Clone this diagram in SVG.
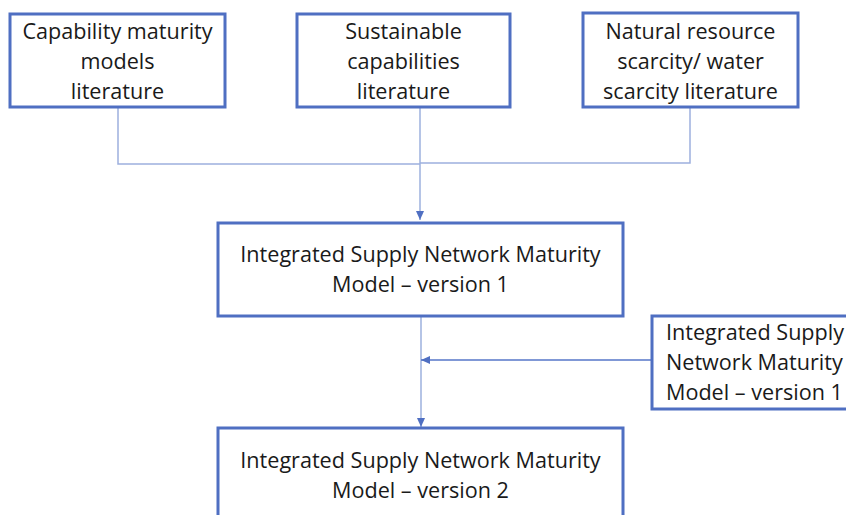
<svg xmlns="http://www.w3.org/2000/svg" width="846" height="515" viewBox="0 0 846 515">
<defs>
<style>
.box{fill:#fff;stroke:#4f6fc2;stroke-width:3}
.t{font-family:"Open Sans","Liberation Sans",sans-serif;font-size:21.6px;fill:#1a1a1a;text-anchor:middle}
.c1{fill:none;stroke:#9db0de;stroke-width:1.5}
.c2{fill:none;stroke:#5676c8;stroke-width:1.5}
</style>
<marker id="ah" markerWidth="10" markerHeight="10" refX="9" refY="5" orient="auto" markerUnits="userSpaceOnUse">
<path d="M0,1 L9,5 L0,9 Z" fill="#4f6fc2"/>
</marker>
</defs>
<rect width="846" height="515" fill="#fff"/>
<g id="connectors">
<polyline class="c1" points="118,107 118,164 420,164"/>
<polyline class="c1" points="690,107 690,163 420,163"/>
<line class="c1" x1="420" y1="107" x2="420" y2="220" marker-end="url(#ah)"/>
<line class="c1" x1="421" y1="316" x2="421" y2="427" marker-end="url(#ah)"/>
<line class="c2" x1="652" y1="360" x2="421" y2="360" marker-end="url(#ah)"/>
</g>
<g id="n1">
<rect class="box" x="10" y="14" width="215" height="93"/>
<text class="t" x="117.5" y="39">Capability maturity</text>
<text class="t" x="117.5" y="69">models</text>
<text class="t" x="117.5" y="99">literature</text>
</g>
<g id="n2">
<rect class="box" x="297" y="14" width="213" height="93"/>
<text class="t" x="403.5" y="39">Sustainable</text>
<text class="t" x="403.5" y="69">capabilities</text>
<text class="t" x="403.5" y="99">literature</text>
</g>
<g id="n3">
<rect class="box" x="583" y="13" width="215" height="94"/>
<text class="t" x="690.5" y="39">Natural resource</text>
<text class="t" x="690.5" y="69">scarcity/ water</text>
<text class="t" x="690.5" y="99">scarcity literature</text>
</g>
<g id="n4">
<rect class="box" x="218" y="223" width="405" height="93"/>
<text class="t" x="420.5" y="262">Integrated Supply Network Maturity</text>
<text class="t" x="420.5" y="292">Model – version 1</text>
</g>
<g id="n5">
<rect class="box" x="652" y="316" width="200" height="93"/>
<text class="t" x="666" y="340" style="text-anchor:start">Integrated Supply</text>
<text class="t" x="666" y="370" style="text-anchor:start">Network Maturity</text>
<text class="t" x="666" y="400" style="text-anchor:start">Model – version 1</text>
</g>
<g id="n6">
<rect class="box" x="218" y="428" width="405" height="93"/>
<text class="t" x="420.5" y="468">Integrated Supply Network Maturity</text>
<text class="t" x="420.5" y="498">Model – version 2</text>
</g>
</svg>
